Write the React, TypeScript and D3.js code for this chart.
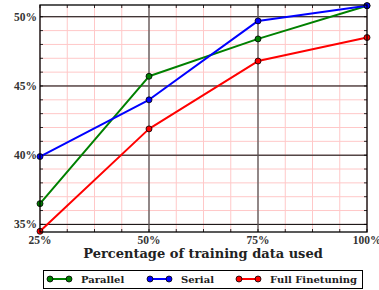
import * as d3 from "d3";

const xCategories = ["25%", "50%", "75%", "100%"];
const xValues = [25, 50, 75, 100];
const parallel = [36.5, 45.7, 48.4, 50.8];
const serial = [39.9, 44.0, 49.7, 50.8];
const fullFinetuning = [34.5, 41.9, 46.8, 48.5];
const yTickValues = [35, 40, 45, 50];
const yTickLabels = ["35%", "40%", "45%", "50%"];

const SERIES = [
  { name: "Parallel", values: parallel, color: "#008000" },
  { name: "Serial", values: serial, color: "#0000ff" },
  { name: "Full Finetuning", values: fullFinetuning, color: "#ff0000" },
];

const W = 379;
const H = 290;
const plot = { left: 40, right: 367, top: 5, bottom: 232 };
const FONT = "'Liberation Serif', 'DejaVu Serif', serif";
const WIDE_FONT = "'DejaVu Serif', serif";

export default function App() {
  const x = d3.scaleLinear().domain([25, 100]).range([plot.left, plot.right]);
  const y = d3.scaleLinear().domain([34.45, 50.85]).range([plot.bottom, plot.top]);

  const minorX = d3.range(25, 100.01, 6.25);
  const minorY = d3.range(35, 50.9, 1);

  const line = d3
    .line<number>()
    .x((_, i) => x(xValues[i]))
    .y((d) => y(d));

  // legend layout
  const legendY = 279;
  const legendItems = [
    { ...SERIES[0], x0: 50 },
    { ...SERIES[1], x0: 150 },
    { ...SERIES[2], x0: 239 },
  ];

  return (
    <svg
      width={W}
      height={H}
      style={{ position: "absolute", left: 0, top: 0, background: "#fff" }}
    >
      <defs>
        <clipPath id="plot-clip">
          <rect
            x={plot.left - 5}
            y={plot.top - 5}
            width={plot.right - plot.left + 10}
            height={plot.bottom - plot.top + 10}
          />
        </clipPath>
      </defs>

      {/* minor grid */}
      <g stroke="#ffc8c8" strokeWidth={1}>
        {minorX.map((v) => (
          <line key={"mx" + v} x1={x(v)} x2={x(v)} y1={plot.top} y2={plot.bottom} />
        ))}
        {minorY.map((v) => (
          <line key={"my" + v} x1={plot.left} x2={plot.right} y1={y(v)} y2={y(v)} />
        ))}
      </g>

      {/* major grid */}
      <g>
        {yTickValues.map((v) => (
          <line key={"gy" + v} x1={plot.left} x2={plot.right} y1={y(v)} y2={y(v)} stroke="#000" strokeWidth={1} />
        ))}
        {xValues.slice(1, 3).map((v) => (
          <line key={"gx" + v} x1={x(v)} x2={x(v)} y1={plot.top} y2={plot.bottom} stroke="#555" strokeWidth={1.3} />
        ))}
      </g>

      {/* minor ticks */}
      <g stroke="#000" strokeWidth={0.8}>
        {minorX.map((v) => (
          <g key={"tx" + v}>
            <line x1={x(v)} x2={x(v)} y1={plot.bottom} y2={plot.bottom - 3} />
            <line x1={x(v)} x2={x(v)} y1={plot.top} y2={plot.top + 3} />
          </g>
        ))}
        {minorY.map((v) => (
          <g key={"ty" + v}>
            <line x1={plot.left} x2={plot.left + 3} y1={y(v)} y2={y(v)} />
            <line x1={plot.right} x2={plot.right - 3} y1={y(v)} y2={y(v)} />
          </g>
        ))}
      </g>

      {/* series */}
      <g clipPath="url(#plot-clip)">
        {SERIES.map((s) => (
          <g key={s.name}>
            <path d={line(s.values) ?? ""} fill="none" stroke={s.color} strokeWidth={2} strokeLinejoin="round" />
            {s.values.map((v, i) => (
              <circle key={i} cx={x(xValues[i])} cy={y(v)} r={3} fill={s.color} stroke="#000" strokeWidth={0.8} />
            ))}
          </g>
        ))}
      </g>

      {/* frame */}
      <rect
        x={plot.left}
        y={plot.top}
        width={plot.right - plot.left}
        height={plot.bottom - plot.top}
        fill="none"
        stroke="#000"
        strokeWidth={1.3}
      />

      {/* tick labels */}
      <g fontFamily={FONT} fontWeight="bold" fontSize={11.5} fill="#333">
        {yTickValues.map((v, i) => (
          <text key={v} x={plot.left - 3} y={y(v)} dy="0.35em" textAnchor="end">
            {yTickLabels[i]}
          </text>
        ))}
        {xValues.map((v, i) => (
          <text key={v} x={x(v)} y={244} textAnchor="middle">
            {xCategories[i]}
          </text>
        ))}
      </g>

      {/* x axis title */}
      <text
        x={(plot.left + plot.right) / 2 - 0.5}
        y={258}
        textAnchor="middle"
        fontFamily={WIDE_FONT}
        fontWeight="bold"
        fontSize={13}
        fill="#222"
      >
        Percentage of training data used
      </text>

      {/* legend */}
      <rect x={43.5} y={270.5} width={319} height={18} fill="#fff" stroke="#000" strokeWidth={1} />
      {legendItems.map((it) => (
        <g key={it.name}>
          <line x1={it.x0} x2={it.x0 + 19} y1={legendY} y2={legendY} stroke={it.color} strokeWidth={2} />
          <circle cx={it.x0} cy={legendY} r={3} fill={it.color} stroke="#000" strokeWidth={0.8} />
          <circle cx={it.x0 + 19} cy={legendY} r={3} fill={it.color} stroke="#000" strokeWidth={0.8} />
          <text
            x={it.x0 + 31}
            y={legendY}
            dy="0.35em"
            fontFamily={WIDE_FONT}
            fontWeight="bold"
            fontSize={10}
            fill="#222"
          >
            {it.name}
          </text>
        </g>
      ))}
    </svg>
  );
}
